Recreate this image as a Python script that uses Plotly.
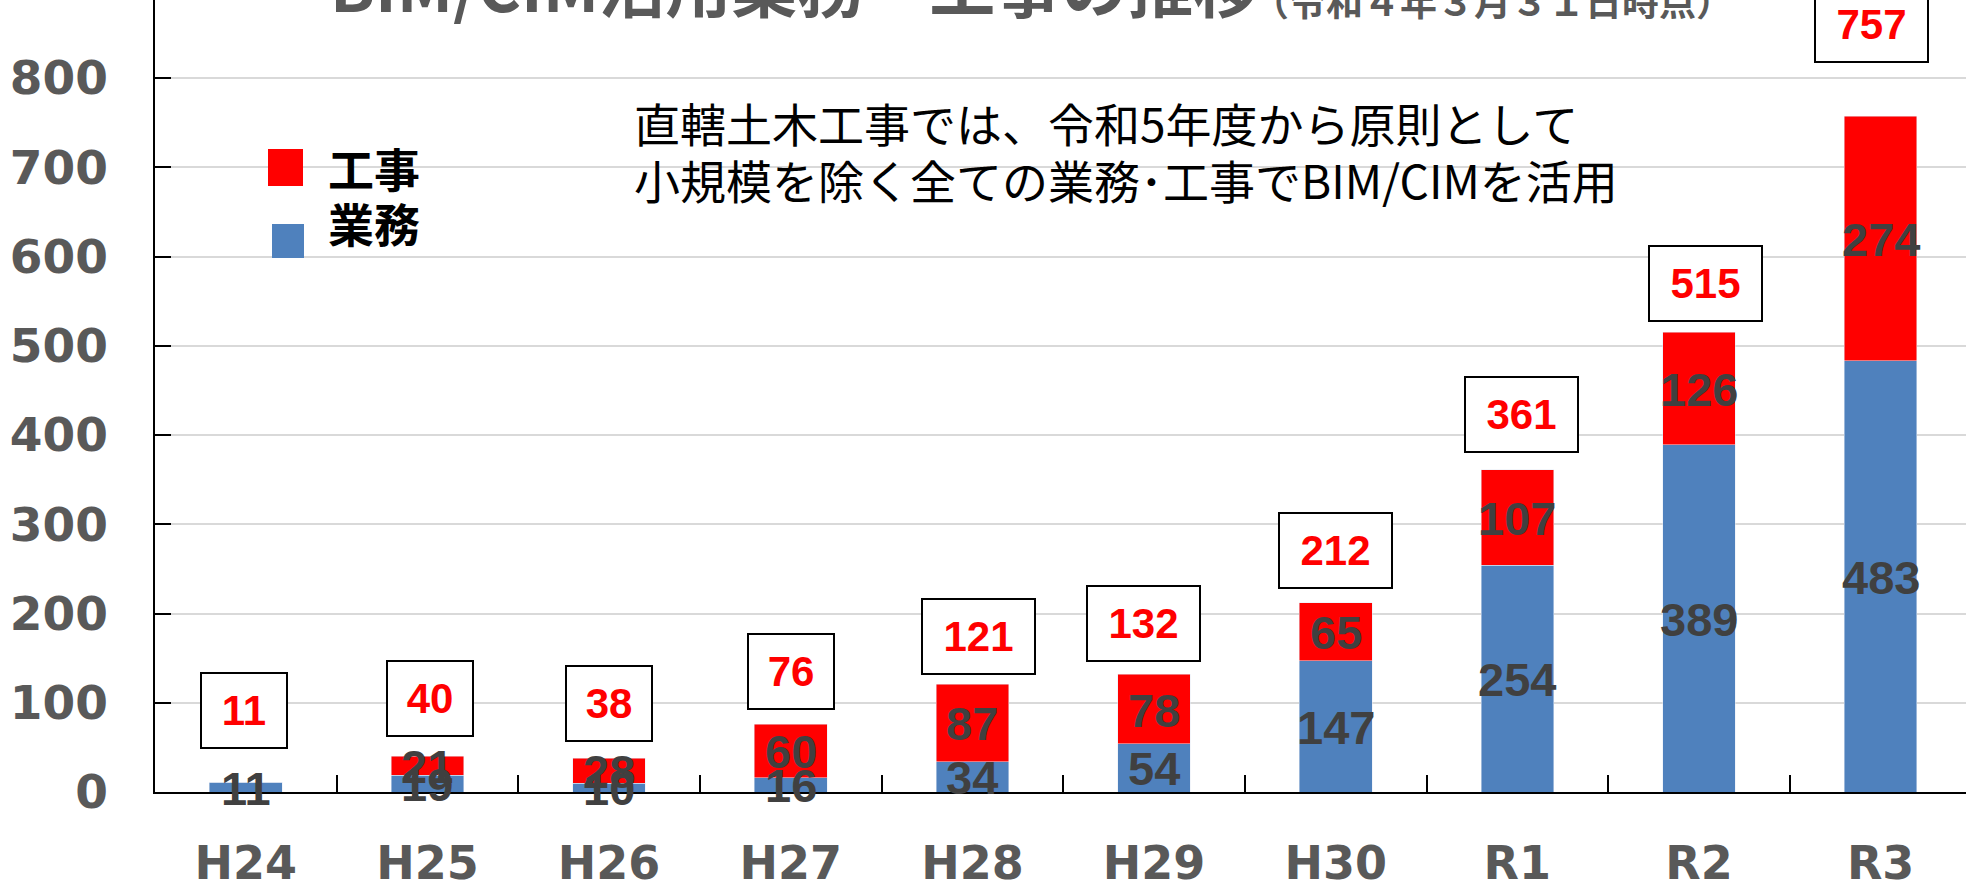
import plotly.graph_objects as go

# data
categories = ["H24", "H25", "H26", "H27", "H28", "H29", "H30", "R1", "R2", "R3"]
gyomu = [11, 19, 10, 16, 34, 54, 147, 254, 389, 483]   # 業務
koji = [0, 21, 28, 60, 87, 78, 65, 107, 126, 274]      # 工事
totals = [g + k for g, k in zip(gyomu, koji)]

# hand placed total boxes (pixel nudges, like the original slide)
box_lift = [33, 19, 16, 14, 9, 12, 14, 17, 10, 53]
box_dx = [-2, 3, 0, 0, 6, -11, 0, 4, 7, -9]

W, H = 1966, 881
ML, MB = 155, 89
PW, PH = W - ML, H - MB

BLUE = "#4f81bd"
RED = "#ff0000"
AXIS_GRAY = "#595959"
LABEL_GRAY = "#404040"
JP = "Noto Sans CJK JP"
ARIAL = "Liberation Sans, Arial"
TICKFONT = "DejaVu Sans"


def px_x(p):
    return (p - ML) / PW


def px_y(p):
    return (H - MB - p) / PH


fig = go.Figure()

fig.add_trace(go.Bar(x=categories, y=gyomu, name="業務", marker_color=BLUE,
                     width=0.4, showlegend=False))
fig.add_trace(go.Bar(x=categories, y=koji, name="工事", marker_color=RED,
                     width=0.4, showlegend=False))

# segment labels, centred in each stacked piece
for c, g, k in zip(categories, gyomu, koji):
    segs = [(g / 2, g), (g + k / 2, k)]
    for ymid, v in segs:
        if not v:
            continue
        fig.add_annotation(
            x=c, y=ymid, xref="x", yref="y", yanchor="middle", yshift=-1,
            text="<b>%d</b>" % v, showarrow=False,
            font=dict(family=ARIAL, size=47, color=LABEL_GRAY))

# boxed totals
for i, (c, t) in enumerate(zip(categories, totals)):
    fig.add_annotation(
        x=c, y=t, xref="x", yref="y", yanchor="bottom",
        yshift=box_lift[i], xshift=box_dx[i],
        text="<b>%d</b>" % t, showarrow=False,
        font=dict(family=ARIAL, size=42, color=RED),
        bgcolor="white", bordercolor="black", borderwidth=2, borderpad=0,
        width=30 + 27 * len(str(t)), height=73)

# title, cut off at the top edge like the source
fig.add_annotation(
    x=px_x(328), y=1, xref="paper", yref="paper", xanchor="left",
    yanchor="bottom", yshift=-33, showarrow=False,
    text="<b>BIM/CIM活用業務・工事の推移</b>",
    font=dict(family=JP, size=66, color=AXIS_GRAY))
fig.add_annotation(
    x=px_x(1250), y=1, xref="paper", yref="paper", xanchor="left",
    yanchor="bottom", yshift=-29, showarrow=False,
    text="<b>（令和４年３月３１日時点）</b>",
    font=dict(family=JP, size=37, color=AXIS_GRAY))

# note, two lines
for line, yc in [("直轄土木工事では、令和5年度から原則として", 122),
                 ("小規模を除く全ての業務･工事でBIM/CIMを活用", 179)]:
    fig.add_annotation(
        x=px_x(632), y=px_y(yc), xref="paper", yref="paper", xanchor="left",
        yanchor="middle", align="left", showarrow=False, text=line,
        font=dict(family=JP, size=46, color="black"))

# legend drawn by hand (big square swatches)
fig.add_shape(type="rect", xref="paper", yref="paper",
              x0=px_x(268), x1=px_x(303), y0=px_y(186), y1=px_y(149),
              fillcolor=RED, line_width=0)
fig.add_shape(type="rect", xref="paper", yref="paper",
              x0=px_x(272), x1=px_x(304), y0=px_y(258), y1=px_y(224),
              fillcolor=BLUE, line_width=0)
for txt, yc in [("工事", 167), ("業務", 222)]:
    fig.add_annotation(
        x=px_x(326), y=px_y(yc), xref="paper", yref="paper", xanchor="left",
        yanchor="middle", showarrow=False, text="<b>%s</b>" % txt,
        font=dict(family=JP, size=46, color="black"))

fig.update_layout(
    width=W, height=H,
    margin=dict(l=ML, r=0, t=0, b=MB, autoexpand=False),
    barmode="stack",
    plot_bgcolor="white", paper_bgcolor="white",
    xaxis=dict(
        range=[-0.5, 9.47], showgrid=False, showline=True,
        linecolor="black", linewidth=2, automargin=False,
        ticks="inside", tickson="boundaries", ticklen=17,
        tickcolor="black", tickwidth=1.5,
        tickfont=dict(family=TICKFONT, size=46, color=AXIS_GRAY, weight="bold"),
        ticklabelstandoff=30),
    yaxis=dict(
        range=[0, 887.4], dtick=100, showgrid=True, gridcolor="#d9d9d9",
        gridwidth=1.5, zeroline=False, showline=True, linecolor="black",
        linewidth=1.5, ticks="inside", ticklen=16, tickcolor="black",
        tickwidth=1.5, automargin=False,
        tickfont=dict(family=TICKFONT, size=47, color=AXIS_GRAY, weight="bold"),
        ticklabelstandoff=36),
)

# drop the browser's default body margin so the chart sits at the corner
fig.write_html("out.html", config={"displayModeBar": False},
               post_script="document.body.style.margin='0';")
